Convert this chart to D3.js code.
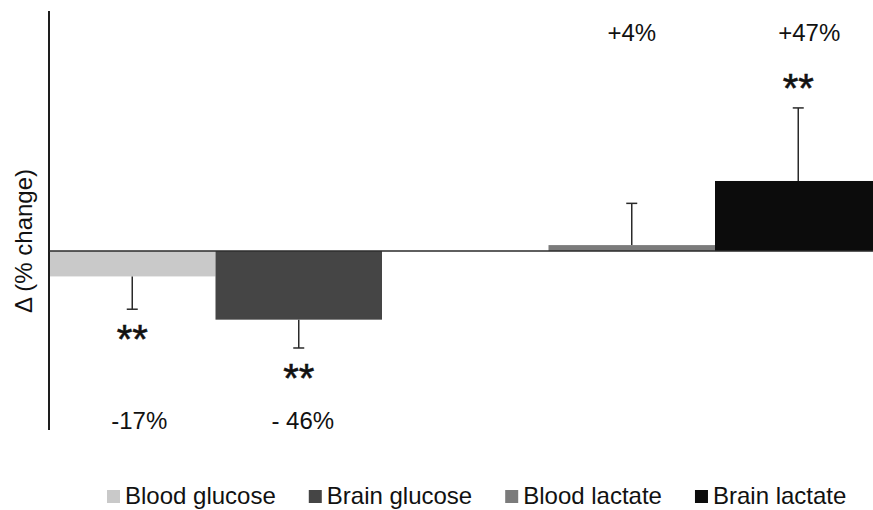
<!DOCTYPE html>
<html>
<head>
<meta charset="utf-8">
<script src="https://cdn.jsdelivr.net/npm/d3@7/dist/d3.min.js"></script>
<style>
  html, body { margin: 0; padding: 0; background: #fff; }
  svg { display: block; font-family: "Liberation Sans", Arial, sans-serif; }
</style>
</head>
<body>
<svg id="chart" width="873" height="510"></svg>
<script>
// ---- data ----
const categories = ["Blood glucose", "Brain glucose", "Blood lactate", "Brain lactate"];
const values = [-17, -46, 4, 47];          // % change
const errors = [22, 19, 28, 49];           // error bar length (% change)
const valueLabels = ["-17%", "- 46%", "+4%", "+47%"];
const significance = ["**", "**", "", "**"];
const colors = ["#c9c9c9", "#454545", "#7b7b7b", "#0c0c0c"];
const yLabel = "\u0394 (% change)";

// ---- layout ----
const svg = d3.select("#chart");
const axisX = 49, plotTop = 11, plotBottom = 430;
const slotDomain = [categories[0], categories[1], "__gap__", categories[2], categories[3]];
const x = d3.scaleBand().domain(slotDomain).range([axisX, axisX + 5 * 166.5]).padding(0);
const y = d3.scaleLinear().domain([-120, 161]).range([plotBottom, plotTop]);

const data = categories.map((c, i) => ({
  cat: c, v: values[i], e: errors[i], lab: valueLabels[i], sig: significance[i], col: colors[i]
}));

// bars
svg.append("g").selectAll("rect").data(data).join("rect")
  .attr("x", d => x(d.cat))
  .attr("width", x.bandwidth())
  .attr("y", d => y(Math.max(0, d.v)))
  .attr("height", d => Math.abs(y(d.v) - y(0)))
  .attr("fill", d => d.col);

// error bars (one-sided, away from zero)
const eb = svg.append("g").attr("stroke", "#2a2a2a").attr("stroke-width", 1.5);
data.forEach(d => {
  const cx = x(d.cat) + x.bandwidth() / 2;
  const end = d.v < 0 ? d.v - d.e : d.v + d.e;
  eb.append("line").attr("x1", cx).attr("x2", cx).attr("y1", y(d.v)).attr("y2", y(end));
  eb.append("line").attr("x1", cx - 5.5).attr("x2", cx + 5.5).attr("y1", y(end)).attr("y2", y(end));
});

// axes lines
svg.append("line").attr("x1", axisX).attr("x2", axisX).attr("y1", y(161)).attr("y2", y(-120))
  .attr("stroke", "#1e1e1e").attr("stroke-width", 2);
svg.append("line").attr("x1", axisX).attr("x2", 873).attr("y1", y(0)).attr("y2", y(0))
  .attr("stroke", "#2a2a2a").attr("stroke-width", 1.5);

// significance stars
const sigFs = 40;
data.forEach(d => {
  if (!d.sig) return;
  const cx = x(d.cat) + x.bandwidth() / 2;
  const end = d.v < 0 ? d.v - d.e : d.v + d.e;
  const cy = d.v < 0 ? y(end) + 24 : y(end) - 26;
  svg.append("text").attr("x", cx).attr("y", cy + 0.5 * sigFs)
    .attr("text-anchor", "middle").attr("font-size", sigFs)
    .attr("stroke", "#111").attr("stroke-width", 0.6)
    .attr("fill", "#111")
    .text(d.sig);
});

// percentage labels
const labDx = [7, 4, 0, 11];
data.forEach((d, i) => {
  const cx = x(d.cat) + x.bandwidth() / 2 + labDx[i];
  svg.append("text").attr("x", cx).attr("y", d.v < 0 ? 429 : 41)
    .attr("text-anchor", "middle").attr("font-size", 24).attr("fill", "#111")
    .text(d.lab);
});

// y label
svg.append("text").attr("transform", "translate(32,241) rotate(-90)")
  .attr("text-anchor", "middle").attr("font-size", 24).attr("fill", "#111")
  .text(yLabel);

// legend
const lg = svg.append("g");
let lx = 107;
data.forEach(d => {
  lg.append("rect").attr("x", lx).attr("y", 490).attr("width", 13).attr("height", 13).attr("fill", d.col);
  const t = lg.append("text").attr("x", lx + 18).attr("y", 504)
    .attr("font-size", 24).attr("fill", "#111").text(d.cat);
  lx = lx + 18 + t.node().getComputedTextLength() + 33;
});
</script>
</body>
</html>
